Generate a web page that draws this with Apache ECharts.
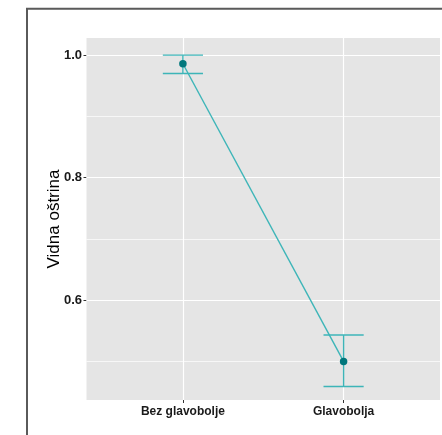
<!DOCTYPE html>
<html>
<head>
<meta charset="utf-8">
<script src="https://cdn.jsdelivr.net/npm/echarts@6/dist/echarts.min.js"></script>
<style>
  html, body { margin: 0; padding: 0; background: #ffffff; }
  #chart { width: 442px; height: 435px; }
</style>
</head>
<body>
<div id="chart"></div>
<script>
// podaci
const categories = ['Bez glavobolje', 'Glavobolja']
const means = [0.986, 0.500]
const lower = [0.970, 0.459]
const upper = [1.000, 0.543]
const yTicks = [0.6, 0.8, 1.0]
const yGrid = [0.5, 0.6, 0.7, 0.8, 0.9, 1.0]

const lineColor = '#3DB5B8'
const pointColor = '#00777C'

const chart = echarts.init(document.getElementById('chart'))

const xPos = categories.map((c, i) => i + 1)
const meanData = means.map((v, i) => [xPos[i], v])
const errData = means.map((v, i) => [xPos[i], lower[i], upper[i]])

// grid linije (bijele), glavne deblje
const gridLines = yGrid.map(v => ({ yAxis: v, lineStyle: { width: (Math.round(v * 10) % 2 === 0) ? 1.2 : 0.7 } }))
  .concat(xPos.map(x => ({ xAxis: x, lineStyle: { width: 1.2 } })))

const option = {
  animation: false,
  grid: {
    left: 86.5,
    top: 38,
    right: 2,
    bottom: 35,
    show: true,
    backgroundColor: '#E5E5E5',
    borderWidth: 0
  },
  graphic: [{
    type: 'rect',
    shape: { x: 27, y: 8.7, width: 600, height: 600 },
    style: { fill: 'none', stroke: '#5a5a5a', lineWidth: 2 },
    z: 100
  }],
  xAxis: {
    type: 'value',
    min: 0.4,
    max: 2.6,
    axisLine: { show: false },
    splitLine: { show: false },
    axisTick: { show: true, customValues: xPos, length: 3, lineStyle: { color: '#333' } },
    axisLabel: {
      customValues: xPos,
      formatter: v => categories[Math.round(v) - 1],
      margin: 6,
      color: '#1a1a1a',
      fontSize: 12,
      fontWeight: 'bold',
      fontFamily: 'Liberation Sans'
    }
  },
  yAxis: {
    type: 'value',
    min: 0.437,
    max: 1.028,
    name: 'Vidna oštrina',
    nameLocation: 'middle',
    nameRotate: 90,
    nameGap: 24,
    nameMoveOverlap: false,
    nameTextStyle: { color: '#000', fontSize: 17, fontFamily: 'Liberation Sans' },
    axisLine: { show: false },
    splitLine: { show: false },
    axisTick: { show: true, customValues: yTicks, length: 3, lineStyle: { color: '#333' } },
    axisLabel: {
      customValues: yTicks,
      formatter: v => v.toFixed(1),
      margin: 4.5,
      color: '#1a1a1a',
      fontSize: 13,
      fontWeight: 'bold',
      fontFamily: 'Liberation Sans'
    }
  },
  series: [
    {
      type: 'line',
      data: [],
      silent: true,
      markLine: {
        z: 1,
        silent: true,
        symbol: 'none',
        label: { show: false },
        lineStyle: { color: '#ffffff', type: 'solid' },
        data: gridLines
      },
      z: 1
    },
    {
      type: 'custom',
      data: errData,
      renderItem: (params, api) => {
        const x = api.value(0)
        const lo = api.coord([x, api.value(1)])
        const hi = api.coord([x, api.value(2)])
        const capL = api.coord([x - 0.125, api.value(1)])[0]
        const capR = api.coord([x + 0.125, api.value(1)])[0]
        const style = { stroke: lineColor, lineWidth: 1.4 }
        return {
          type: 'group',
          children: [
            { type: 'line', shape: { x1: lo[0], y1: lo[1], x2: hi[0], y2: hi[1] }, style },
            { type: 'line', shape: { x1: capL, y1: lo[1], x2: capR, y2: lo[1] }, style },
            { type: 'line', shape: { x1: capL, y1: hi[1], x2: capR, y2: hi[1] }, style }
          ]
        }
      },
      z: 10
    },
    {
      type: 'line',
      data: meanData,
      symbol: 'circle',
      symbolSize: 7.5,
      lineStyle: { color: lineColor, width: 1.4 },
      itemStyle: { color: pointColor, borderWidth: 0 },
      z: 11
    }
  ]
}

chart.setOption(option)
</script>
</body>
</html>
